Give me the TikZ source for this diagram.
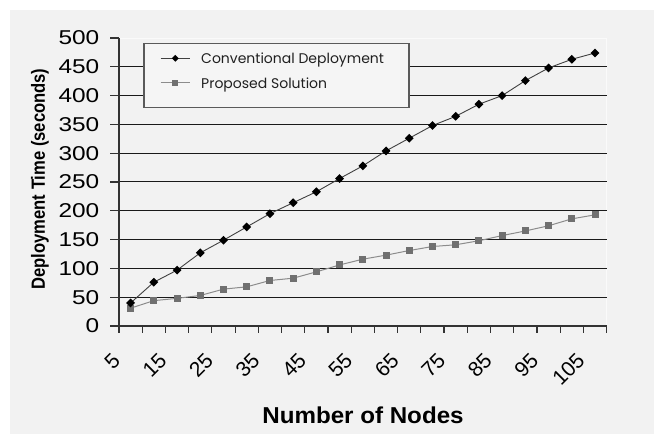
\documentclass[tikz,border=0pt]{standalone}
\usepackage{fontspec}
\setmainfont{Liberation Sans}
\newfontfamily\legendfont{Poppins}
\usetikzlibrary{shapes.geometric}
\definecolor{chartbg}{HTML}{F2F2F2}
\definecolor{legbg}{HTML}{F5F5F5}
\definecolor{legedge}{HTML}{5A5A5A}
\definecolor{gridc}{HTML}{1A1A1A}
\definecolor{axisc}{HTML}{333333}
\definecolor{convc}{HTML}{404040}
\definecolor{propc}{HTML}{8C8C8C}
\definecolor{propmark}{HTML}{707070}
\definecolor{legink}{HTML}{202020}
\tikzset{
  gridline/.style={gridc, line width=1bp},
  axisline/.style={axisc, line width=1.2bp},
  ticklab/.style={inner sep=0pt, font=\fontsize{20bp}{24bp}\selectfont},
  convline/.style={convc, line width=0.9bp},
  propline/.style={propc, line width=1bp},
  dmark/.style={diamond, fill=black, draw=none, inner sep=0pt, minimum width=9bp, minimum height=9bp},
  smark/.style={rectangle, fill=propmark, draw=none, inner sep=0pt, minimum size=7bp},
  legtext/.style={inner sep=0pt, text=legink, font=\legendfont\fontsize{14bp}{16bp}\selectfont},
}
\begin{document}
\begin{tikzpicture}[x=1bp, y=-1bp]
\useasboundingbox (0,0) rectangle (654,434);
% chart area
\fill[chartbg] (10,10) rectangle (654,434);
% light frame of the plot area
\draw[white!60!chartbg, line width=1.5bp] (119,38.3) -- (606.7,38.3) -- (606.7,326);
% horizontal gridlines
\foreach \v in {50,100,...,450}
  \draw[gridline] (119,{326-0.576*\v}) -- (606.7,{326-0.576*\v});
% value axis with ticks and labels
\draw[axisline] (119,38.3) -- (119,326);
\foreach \v in {0,50,...,500} {
  \draw[axisline] (110,{326-0.576*\v}) -- (119,{326-0.576*\v});
  \node[ticklab, anchor=east, xscale=1.22] (yl\v) at (99.5,{326-0.576*\v}) {\v};
}
% category axis with ticks and labels
\draw[axisline] (119,326) -- (606.7,326);
\foreach \k in {0,...,21}
  \draw[axisline] ({119+23.22*\k},326) -- ({119+23.22*\k},333);
\foreach \lab [count=\i from 0] in {5,15,...,105}
  \node[ticklab, anchor=east, rotate=45, font=\fontsize{21bp}{24bp}\selectfont] (xl\i) at ({119+23.22*(2*\i+0.5)-14},356.6) {\lab};
% axis titles
\node[inner sep=0pt, font=\bfseries\fontsize{16.6bp}{20bp}\selectfont, xscale=1.15, rotate=90] (ytitle) at (40,179) {Deployment Time (seconds)};
\node[inner sep=0pt, font=\bfseries\fontsize{23bp}{27bp}\selectfont, xscale=1.05] (xtitle) at (363,415) {Number of Nodes};
% data points
\foreach \v [count=\i from 0] in {40,76,97,127,149,172,195,214,233,256,278,304,326,348,364,385,400,426,448,463,474}
  \coordinate (a\i) at ({119+23.22*(\i+0.5)},{326-0.576*\v});
\foreach \v [count=\i from 0] in {31,44,48,53,64,68,79,83,94,106,116,123,131,138,141,148,157,165,174,186,193}
  \coordinate (b\i) at ({119+23.22*(\i+0.5)},{326-0.576*\v});
% series lines
\draw[propline] (b0) \foreach \i in {1,...,20} { -- (b\i) };
\draw[convline] (a0) \foreach \i in {1,...,20} { -- (a\i) };
% series markers
\foreach \i in {0,...,20} \node[smark] (mb\i) at (b\i) {};
\foreach \i in {0,...,20} \node[dmark] (ma\i) at (a\i) {};
% legend
\node[draw=legedge, fill=legbg, line width=1.2bp, inner sep=0pt, minimum width=265bp, minimum height=64.3bp, anchor=north west] (legend) at (143.3,42.7) {};
\coordinate (la1) at (160.7,58.3);
\coordinate (lb1) at (190,58.3);
\coordinate (la2) at (160.7,82.7);
\coordinate (lb2) at (190,82.7);
\draw[convline] (la1) -- (lb1);
\draw[propline] (la2) -- (lb2);
\node[dmark, minimum width=7bp, minimum height=7bp] (lm1) at (175.3,58.3) {};
\node[smark, minimum size=6bp] (lm2) at (175.3,82.7) {};
\node[legtext, anchor=base west] (lt1) at (201,64) {Conventional Deployment};
\node[legtext, anchor=base west] (lt2) at (201,88.6) {Proposed Solution};
\end{tikzpicture}
\end{document}
